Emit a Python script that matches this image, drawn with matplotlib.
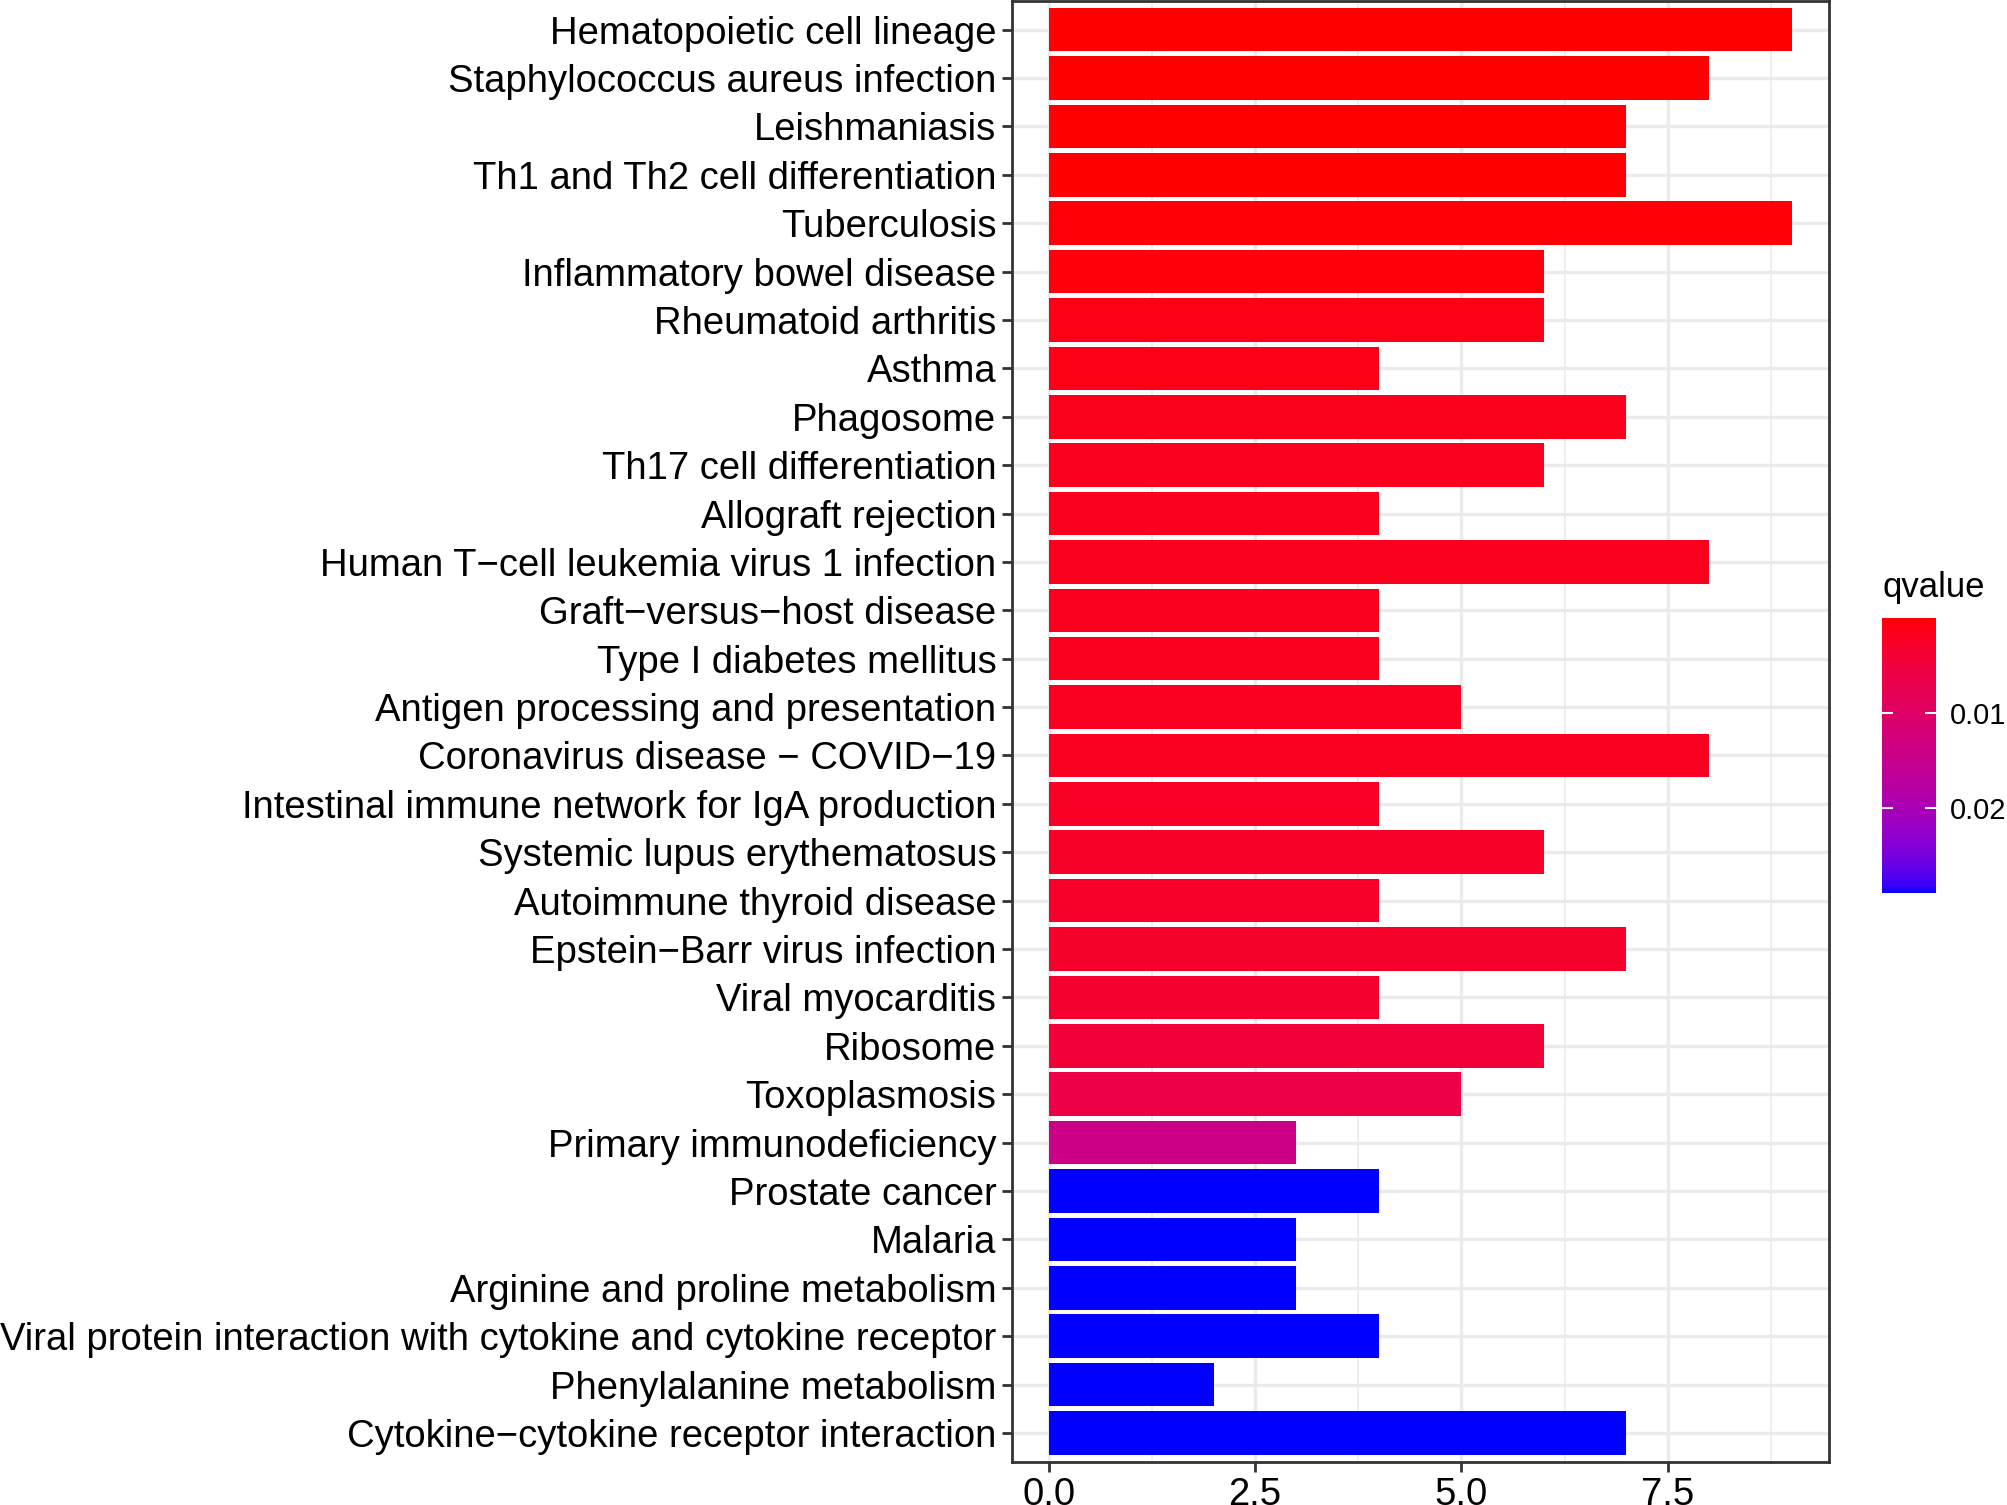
import numpy as np
import matplotlib
matplotlib.use("Agg")
import matplotlib.pyplot as plt
from matplotlib.colors import ListedColormap, Normalize

plt.rcParams['font.family'] = ['Liberation Sans', 'DejaVu Sans']

# ---- data (top to bottom as displayed) ----
pathways = [
    "Hematopoietic cell lineage",
    "Staphylococcus aureus infection",
    "Leishmaniasis",
    "Th1 and Th2 cell differentiation",
    "Tuberculosis",
    "Inflammatory bowel disease",
    "Rheumatoid arthritis",
    "Asthma",
    "Phagosome",
    "Th17 cell differentiation",
    "Allograft rejection",
    "Human T\u2212cell leukemia virus 1 infection",
    "Graft\u2212versus\u2212host disease",
    "Type I diabetes mellitus",
    "Antigen processing and presentation",
    "Coronavirus disease \u2212 COVID\u221219",
    "Intestinal immune network for IgA production",
    "Systemic lupus erythematosus",
    "Autoimmune thyroid disease",
    "Epstein\u2212Barr virus infection",
    "Viral myocarditis",
    "Ribosome",
    "Toxoplasmosis",
    "Primary immunodeficiency",
    "Prostate cancer",
    "Malaria",
    "Arginine and proline metabolism",
    "Viral protein interaction with cytokine and cytokine receptor",
    "Phenylalanine metabolism",
    "Cytokine\u2212cytokine receptor interaction",
]
counts = [9, 8, 7, 7, 9, 6, 6, 4, 7, 6, 4, 8, 4, 4, 5, 8, 4, 6, 4, 7, 4, 6, 5, 3, 4, 3, 3, 4, 2, 7]
qvalues = [0.00001, 0.00003, 0.0002, 0.0002, 0.0003, 0.0006, 0.0012, 0.0013, 0.0015, 0.0016,
           0.0017, 0.0018, 0.0019, 0.0019, 0.0020, 0.0021, 0.0026, 0.0027, 0.0030, 0.0031,
           0.0033, 0.0045, 0.0060, 0.0142, 0.02895, 0.02896, 0.02897, 0.02898, 0.02899, 0.0290]
x_ticks = [0.0, 2.5, 5.0, 7.5]
cbar_ticks = [0.01, 0.02]


# ---- ggplot-like Lab gradient red -> blue ----
def srgb_to_lab(rgb):
    rgb = np.asarray(rgb, float)
    lin = np.where(rgb <= 0.04045, rgb / 12.92, ((rgb + 0.055) / 1.055) ** 2.4)
    M = np.array([[0.4124, 0.3576, 0.1805], [0.2126, 0.7152, 0.0722], [0.0193, 0.1192, 0.9505]])
    xyz = M @ lin
    wp = np.array([0.95047, 1.0, 1.08883])
    t = xyz / wp
    f = np.where(t > (6 / 29) ** 3, np.cbrt(t), t / (3 * (6 / 29) ** 2) + 4 / 29)
    return np.array([116 * f[1] - 16, 500 * (f[0] - f[1]), 200 * (f[1] - f[2])])


def lab_to_srgb(lab):
    L, a, b = lab
    fy = (L + 16) / 116
    fx = fy + a / 500
    fz = fy - b / 200
    f = np.array([fx, fy, fz])
    t = np.where(f > 6 / 29, f ** 3, 3 * (6 / 29) ** 2 * (f - 4 / 29))
    xyz = t * np.array([0.95047, 1.0, 1.08883])
    Minv = np.array([[3.2406, -1.5372, -0.4986], [-0.9689, 1.8758, 0.0415], [0.0557, -0.2040, 1.0570]])
    lin = np.clip(Minv @ xyz, 0, 1)
    rgb = np.where(lin <= 0.0031308, 12.92 * lin, 1.055 * lin ** (1 / 2.4) - 0.055)
    return np.clip(rgb, 0, 1)


lab_r = srgb_to_lab([1, 0, 0])
lab_b = srgb_to_lab([0, 0, 1])
cols = [lab_to_srgb(lab_r + (lab_b - lab_r) * t) for t in np.linspace(0, 1, 256)]
cmap = ListedColormap(cols)
norm = Normalize(vmin=min(qvalues), vmax=max(qvalues))

# ---- figure ----
fig = plt.figure(figsize=(20.08, 15.05), dpi=100)
ax = fig.add_axes([0.5038, 0.0286, 0.4069, 0.9710])

n = len(pathways)
ypos = np.arange(n, 0, -1)
ax.barh(ypos, counts, height=0.9, color=cmap(norm(qvalues)), zorder=3)

ax.set_xlim(-0.45, 9.45)
ax.set_ylim(0.4, n + 0.6)
ax.set_yticks(ypos)
ax.set_yticklabels(pathways)
ax.set_xticks(x_ticks)
ax.set_xticklabels([f"{v:.1f}" for v in x_ticks])
ax.set_xticks([1.25, 3.75, 6.25, 8.75], minor=True)

ax.grid(True, which='major', color='#EBEBEB', linewidth=2.4, zorder=0)
ax.grid(True, which='minor', axis='x', color='#EBEBEB', linewidth=1.2, zorder=0)
ax.set_axisbelow(True)
ax.tick_params(axis='both', which='major', length=7, width=2, color='#333333',
               labelsize=27.5, labelcolor='black', pad=4)
ax.tick_params(axis='x', which='minor', length=0)
for s in ax.spines.values():
    s.set_color('#333333')
    s.set_linewidth(2)

# ---- colorbar ----
cax = fig.add_axes([0.9373, 0.4066, 0.0269, 0.1827])
sm = matplotlib.cm.ScalarMappable(norm=norm, cmap=cmap)
cb = fig.colorbar(sm, cax=cax)
cb.outline.set_visible(False)
cax.invert_yaxis()
cb.set_ticks(cbar_ticks)
cb.set_ticklabels([f"{v:.2f}" for v in cbar_ticks])
cax.tick_params(axis='y', direction='in', left=True, right=True, labelleft=False, labelright=True,
                color='white', length=8, width=1.5, labelsize=21, pad=10)
fig.text(0.9373, 0.6033, 'qvalue', fontsize=25, ha='left', va='baseline')

fig.savefig('out.png', dpi=100)
